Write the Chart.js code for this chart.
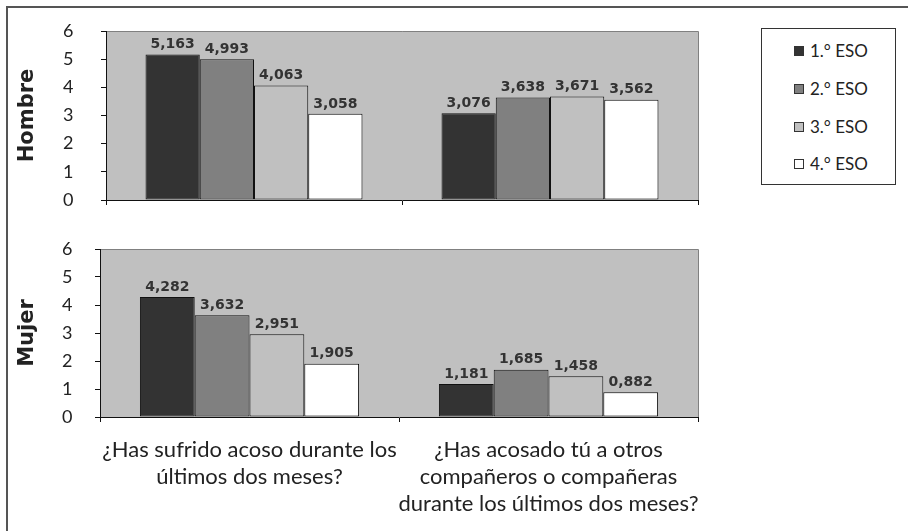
<!DOCTYPE html>
<html>
<head>
<meta charset="utf-8">
<script src="https://cdn.jsdelivr.net/npm/chart.js@4.4.1/dist/chart.umd.min.js"></script>
<style>
  html, body { margin: 0; padding: 0; background: #fff; }
  #stage { position: relative; width: 908px; height: 531px; overflow: hidden; }
  #frame { position: absolute; left: 6px; top: 6px; width: 940px; height: 560px;
           border-left: 2px solid #555; border-top: 2px solid #555; }
  .panel { position: absolute; left: 0; width: 720px; }
  #legend { position: absolute; left: 761px; top: 28px; width: 133px; height: 155px;
            border: 1px solid #333; font-family: Lato, sans-serif; font-size: 17px; color: #222; }
  .item { position: absolute; left: 32px; height: 18px; line-height: 18px; }
  .swatch { display: inline-block; width: 8px; height: 8px; border: 1px solid #333;
            margin-right: 6px; vertical-align: 1px; }
</style>
</head>
<body>
<div id="stage">
  <div id="frame"></div>
  <div class="panel" style="top:0;height:215px"><canvas id="hombreChart"></canvas></div>
  <div class="panel" style="top:215px;height:316px"><canvas id="mujerChart"></canvas></div>
  <div id="legend"></div>
</div>
<script>
// ── Data ──
const categories = [
  ['¿Has sufrido acoso durante los', 'últimos dos meses?'],
  ['¿Has acosado tú a otros', 'compañeros o compañeras', 'durante los últimos dos meses?'],
];
const seriesNames = ['1.° ESO', '2.° ESO', '3.° ESO', '4.° ESO'];
const seriesColors = ['#333333', '#808080', '#c0c0c0', '#ffffff'];

const hombreESO1 = [5.163, 3.076];
const hombreESO2 = [4.993, 3.638];
const hombreESO3 = [4.063, 3.671];
const hombreESO4 = [3.058, 3.562];

const mujerESO1 = [4.282, 1.181];
const mujerESO2 = [3.632, 1.685];
const mujerESO3 = [2.951, 1.458];
const mujerESO4 = [1.905, 0.882];

const yMin = 0, yMax = 6, yStep = 1;

/** grey plot background + top/right frame */
const plotBackground = {
  id: 'plotBackground',
  beforeDraw(chart) {
    const { ctx, chartArea: a } = chart;
    ctx.save();
    ctx.fillStyle = '#c0c0c0';
    ctx.fillRect(a.left, a.top, a.right - a.left, a.bottom - a.top);
    ctx.strokeStyle = '#808080';
    ctx.lineWidth = 1;
    ctx.beginPath();
    ctx.moveTo(a.left, a.top + 0.5);
    ctx.lineTo(a.right + 0.5, a.top + 0.5);
    ctx.lineTo(a.right + 0.5, a.bottom);
    ctx.stroke();
    ctx.restore();
  }
};

/** value labels above each bar, decimal comma */
const valueLabels = {
  id: 'valueLabels',
  afterDatasetsDraw(chart) {
    const { ctx } = chart;
    ctx.save();
    ctx.font = 'bold 14px "DejaVu Sans", sans-serif';
    ctx.fillStyle = '#333';
    ctx.textAlign = 'center';
    ctx.textBaseline = 'bottom';
    chart.data.datasets.forEach((ds, i) => {
      chart.getDatasetMeta(i).data.forEach((bar, j) => {
        ctx.fillText(ds.data[j].toFixed(3).replace('.', ','), bar.x, bar.y - 3);
      });
    });
    ctx.restore();
  }
};

function makeDatasets(values) {
  return values.map((v, i) => ({
    label: seriesNames[i],
    data: v,
    backgroundColor: seriesColors[i],
    borderColor: '#111',
    borderWidth: 1,
    borderSkipped: false,
    categoryPercentage: 0.733,
    barPercentage: 1,
  }));
}

// geo.axisX = x of the value axis, geo.labelX = left edge of the tick labels
function makeChart(el, title, values, geo) {
  return new Chart(el, {
    type: 'bar',
    data: { labels: categories, datasets: makeDatasets(values) },
    plugins: [plotBackground, valueLabels],
    options: {
      responsive: true,
      maintainAspectRatio: false,
      animation: false,
      layout: { padding: { top: geo.top, right: 22, left: geo.labelX, bottom: 0 } },
      plugins: { legend: { display: false }, tooltip: { enabled: false } },
      scales: {
        x: {
          afterFit: (s) => { s.height = geo.xHeight; },
          grid: { drawOnChartArea: false, tickLength: 5, color: '#111', offset: true },
          border: { color: '#111', width: 1 },
          ticks: {
            color: geo.labelColor,
            maxRotation: 0,
            autoSkip: false,
            padding: 14,
            font: { family: 'Lato', size: 22, lineHeight: 1.23 },
          },
        },
        y: {
          min: yMin, max: yMax,
          afterFit: (s) => { s.width = geo.axisX - geo.labelX; },
          grid: { drawOnChartArea: false, tickLength: 5, color: '#111' },
          border: { color: '#111', width: 1 },
          ticks: {
            stepSize: yStep,
            color: '#222',
            padding: 0,
            crossAlign: 'far',
            font: { family: 'Lato', size: 18 },
          },
          title: {
            display: true,
            text: title,
            color: '#222',
            // title centre sits at x≈28, left of the tick labels
            padding: { top: 28 - geo.labelX - 12.6, bottom: 0 },
            font: { family: 'DejaVu Sans', size: 21, weight: 'bold' },
          },
        },
      },
    },
  });
}

makeChart(document.getElementById('hombreChart'), 'Hombre',
  [hombreESO1, hombreESO2, hombreESO3, hombreESO4],
  { top: 31, xHeight: 15, axisX: 106, labelX: 63, labelColor: 'rgba(0,0,0,0)' });

makeChart(document.getElementById('mujerChart'), 'Mujer',
  [mujerESO1, mujerESO2, mujerESO3, mujerESO4],
  { top: 34, xHeight: 114, axisX: 100, labelX: 62, labelColor: '#222' });

// ── Legend ──
const legendEl = document.getElementById('legend');
const rowTops = [13, 51, 89, 126];
seriesNames.forEach((name, i) => {
  const row = document.createElement('div');
  row.className = 'item';
  row.style.top = rowTops[i] + 'px';
  row.innerHTML = `<span class="swatch" style="background:${seriesColors[i]}"></span>${name}`;
  legendEl.appendChild(row);
});
</script>
</body>
</html>
